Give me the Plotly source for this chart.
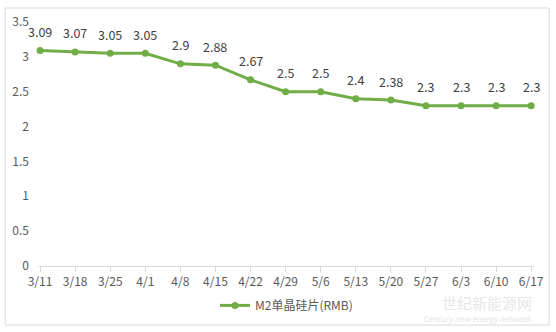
import plotly.graph_objects as go

# Weekly price of M2 mono-crystalline silicon wafers (RMB)
dates = ["3/11", "3/18", "3/25", "4/1", "4/8", "4/15", "4/22", "4/29",
         "5/6", "5/13", "5/20", "5/27", "6/3", "6/10", "6/17"]
prices = [3.09, 3.07, 3.05, 3.05, 2.9, 2.88, 2.67, 2.5,
          2.5, 2.4, 2.38, 2.3, 2.3, 2.3, 2.3]
y_ticks = [0, 0.5, 1, 1.5, 2, 2.5, 3, 3.5]

W, H = 556, 332
ML, MR, MT, MB = 35, 16, 15, 63
PW, PH = W - ML - MR, H - MT - MB

FONT = "Noto Sans CJK SC, Open Sans, sans-serif"
GREEN = "#70AD47"
xs = list(range(len(dates)))


def paper_y(px):
    """Convert a pixel row (from the top of the figure) to paper y."""
    return (H - MB - px) / PH


fig = go.Figure()
fig.add_trace(go.Scatter(
    x=xs, y=prices,
    mode="lines+markers",
    name="M2单晶硅片(RMB)",
    line=dict(color=GREEN, width=3),
    marker=dict(color=GREEN, size=7),
    cliponaxis=False,
))

# value labels above each point
labels = [dict(x=x, y=v, xref="x", yref="y", text=f"{v:g}", showarrow=False,
               yshift=19, font=dict(family=FONT, size=12.5, color="#404040"))
          for x, v in zip(xs, prices)]

# faint site watermark in the lower right corner
watermark = [
    dict(text="世纪新能源网", xref="paper", yref="paper",
         x=1.0, y=paper_y(307), xanchor="right", yanchor="middle",
         showarrow=False,
         font=dict(family=FONT, size=15, color="rgba(205,205,205,0.5)")),
    dict(text="<i>Century new energy network</i>", xref="paper", yref="paper",
         x=1.0, y=paper_y(324), xanchor="right", yanchor="middle",
         showarrow=False,
         font=dict(family=FONT, size=8, color="rgba(205,205,205,0.6)")),
]

fig.update_layout(
    width=W, height=H,
    margin=dict(l=ML, r=MR, t=MT, b=MB),
    paper_bgcolor="white", plot_bgcolor="white",
    font=dict(family=FONT, size=12, color="#595959"),
    showlegend=True,
    legend=dict(orientation="h", x=0.5, xanchor="center",
                y=paper_y(310), yanchor="middle",
                font=dict(family=FONT, size=12, color="#595959")),
    xaxis=dict(
        tickmode="array", tickvals=xs, ticktext=dates,
        range=[-0.03, 14.08], showgrid=False, zeroline=False,
        showline=True, linecolor="#d9d9d9", linewidth=1,
        ticks="outside", ticklen=5, tickcolor="#d9d9d9",
        tickfont=dict(size=12, color="#595959"),
    ),
    yaxis=dict(
        range=[0, 3.5], tickmode="array", tickvals=y_ticks,
        ticktext=[f"{v:g}" for v in y_ticks],
        showgrid=False, zeroline=False, showline=False,
        ticks="", ticklabelstandoff=9,
        tickfont=dict(size=12, color="#595959"),
    ),
    shapes=[dict(
        type="rect", xref="paper", yref="paper",
        x0=-(ML - 0.5) / PW, x1=1 + (MR - 0.5) / PW,
        y0=-(MB - 1.5) / PH, y1=1 + (MT - 0.5) / PH,
        line=dict(color="#d9d9d9", width=1), fillcolor="rgba(0,0,0,0)",
    )],
    annotations=labels + watermark,
)

fig.write_html("out.html")
